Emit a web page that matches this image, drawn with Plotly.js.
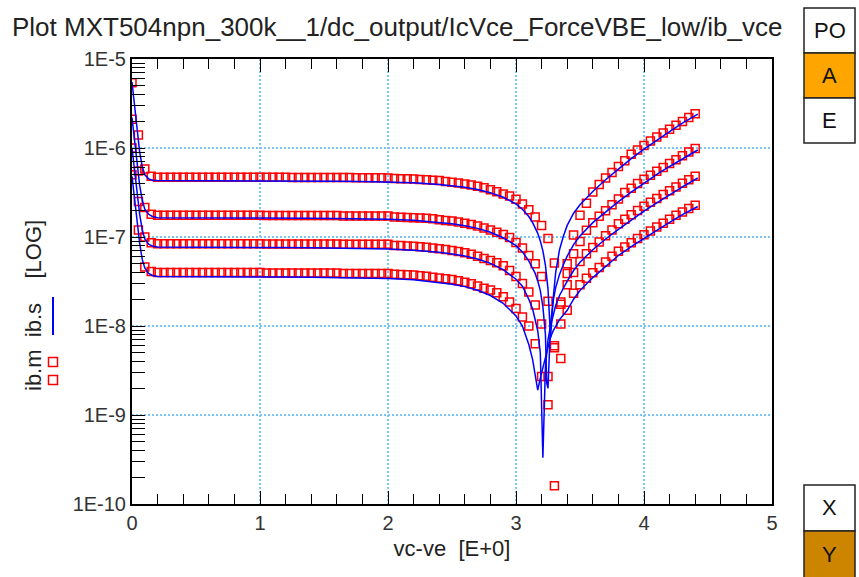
<!DOCTYPE html>
<html><head><meta charset="utf-8">
<script src="https://cdn.plot.ly/plotly-3.0.1.min.js"></script>
<style>html,body{margin:0;padding:0;background:#fff}#chart{width:859px;height:577px}</style>
</head><body><div id="chart"></div>
<script>
// measured vc-ve grid
const vceMeas = [0,0.05,0.1,0.15,0.2,0.25,0.3,0.35,0.4,0.45,0.5,0.55,0.6,0.65,0.7,0.75,0.8,0.85,0.9,0.95,1,1.05,1.1,1.15,1.2,1.25,1.3,1.35,1.4,1.45,1.5,1.55,1.6,1.65,1.7,1.75,1.8,1.85,1.9,1.95,2,2.05,2.1,2.15,2.2,2.25,2.3,2.35,2.4,2.45,2.5,2.55,2.6,2.65,2.7,2.75,2.8,2.85,2.9,2.95,3,3.05,3.1,3.15,3.2,3.25,3.3,3.35,3.4,3.45,3.5,3.55,3.6,3.65,3.7,3.75,3.8,3.85,3.9,3.95,4,4.05,4.1,4.15,4.2,4.25,4.3,4.35,4.4];
// measured |ib| (ib.m), four VBE steps
const ibmA = [5.4e-6,1.4e-6,5.8e-7,4.8e-7,4.7e-7,4.7e-7,4.7e-7,4.7e-7,4.7e-7,4.7e-7,4.7e-7,4.7e-7,4.7e-7,4.68e-7,4.68e-7,4.68e-7,4.68e-7,4.68e-7,4.68e-7,4.68e-7,4.68e-7,4.68e-7,4.68e-7,4.68e-7,4.68e-7,4.65e-7,4.65e-7,4.65e-7,4.65e-7,4.65e-7,4.65e-7,4.65e-7,4.65e-7,4.65e-7,4.65e-7,4.62e-7,4.62e-7,4.62e-7,4.62e-7,4.62e-7,4.6e-7,4.55e-7,4.52e-7,4.5e-7,4.47e-7,4.44e-7,4.4e-7,4.35e-7,4.3e-7,4.2e-7,4.12e-7,4.05e-7,3.95e-7,3.85e-7,3.72e-7,3.57e-7,3.4e-7,3.22e-7,3.05e-7,2.88e-7,2.65e-7,2.35e-7,2.02e-7,1.68e-7,1.35e-7,9.6e-8,5.1e-8,4.3e-9,5.0e-8,1.05e-7,1.75e-7,2.4e-7,3.2e-7,3.9e-7,4.6e-7,5.3e-7,6.2e-7,7.2e-7,8.5e-7,9.5e-7,1.07e-6,1.2e-6,1.33e-6,1.47e-6,1.62e-6,1.8e-6,1.98e-6,2.2e-6,2.42e-6];
const ibmB = [2.1e-6,5.5e-7,2.15e-7,1.8e-7,1.75e-7,1.75e-7,1.75e-7,1.75e-7,1.75e-7,1.75e-7,1.75e-7,1.75e-7,1.75e-7,1.75e-7,1.75e-7,1.75e-7,1.75e-7,1.75e-7,1.75e-7,1.75e-7,1.75e-7,1.74e-7,1.74e-7,1.74e-7,1.74e-7,1.74e-7,1.74e-7,1.74e-7,1.74e-7,1.74e-7,1.74e-7,1.74e-7,1.74e-7,1.72e-7,1.72e-7,1.72e-7,1.72e-7,1.72e-7,1.72e-7,1.72e-7,1.72e-7,1.68e-7,1.67e-7,1.66e-7,1.65e-7,1.64e-7,1.62e-7,1.6e-7,1.56e-7,1.53e-7,1.51e-7,1.47e-7,1.43e-7,1.38e-7,1.33e-7,1.26e-7,1.2e-7,1.13e-7,1.07e-7,9.9e-8,8.7e-8,7.5e-8,6.2e-8,5.0e-8,3.6e-8,1.9e-8,1.6e-10,1.86e-8,3.9e-8,6.5e-8,8.9e-8,1.19e-7,1.45e-7,1.71e-7,1.97e-7,2.31e-7,2.68e-7,3.16e-7,3.53e-7,3.98e-7,4.46e-7,4.95e-7,5.47e-7,6.03e-7,6.7e-7,7.37e-7,8.18e-7,9.0e-7,9.86e-7];
const ibmC = [1.0e-6,2.5e-7,1.0e-7,8.6e-8,8.4e-8,8.4e-8,8.4e-8,8.4e-8,8.4e-8,8.4e-8,8.4e-8,8.4e-8,8.4e-8,8.4e-8,8.4e-8,8.4e-8,8.4e-8,8.4e-8,8.4e-8,8.4e-8,8.4e-8,8.35e-8,8.35e-8,8.35e-8,8.35e-8,8.35e-8,8.35e-8,8.35e-8,8.35e-8,8.35e-8,8.35e-8,8.35e-8,8.35e-8,8.3e-8,8.3e-8,8.3e-8,8.3e-8,8.3e-8,8.3e-8,8.3e-8,8.3e-8,8.04e-8,8.0e-8,7.93e-8,7.86e-8,7.77e-8,7.68e-8,7.5e-8,7.36e-8,7.24e-8,7.06e-8,6.88e-8,6.65e-8,6.38e-8,6.08e-8,5.75e-8,5.45e-8,5.15e-8,4.74e-8,4.2e-8,3.61e-8,3.0e-8,2.41e-8,1.72e-8,1.05e-8,1.3e-9,6.0e-9,1.75e-8,2.9e-8,4.0e-8,5.3e-8,6.5e-8,7.6e-8,8.8e-8,1.03e-7,1.2e-7,1.41e-7,1.58e-7,1.78e-7,1.99e-7,2.21e-7,2.45e-7,2.7e-7,3.0e-7,3.3e-7,3.65e-7,4.02e-7,4.4e-7,4.8e-7];
const ibmD = [5.0e-7,1.2e-7,4.6e-8,4.1e-8,4.0e-8,4.0e-8,4.0e-8,4.0e-8,4.0e-8,4.0e-8,4.0e-8,4.0e-8,4.0e-8,4.0e-8,4.0e-8,4.0e-8,4.0e-8,4.0e-8,4.0e-8,4.0e-8,4.0e-8,3.95e-8,3.95e-8,3.95e-8,3.95e-8,3.95e-8,3.95e-8,3.95e-8,3.95e-8,3.95e-8,3.95e-8,3.95e-8,3.95e-8,3.9e-8,3.9e-8,3.9e-8,3.9e-8,3.9e-8,3.9e-8,3.9e-8,3.9e-8,3.82e-8,3.8e-8,3.76e-8,3.73e-8,3.68e-8,3.62e-8,3.54e-8,3.47e-8,3.4e-8,3.32e-8,3.22e-8,3.1e-8,2.98e-8,2.82e-8,2.66e-8,2.53e-8,2.36e-8,2.13e-8,1.86e-8,1.57e-8,1.26e-8,1.0e-8,6.3e-9,2.7e-9,2.7e-9,5.7e-9,1.05e-8,1.5e-8,2.33e-8,2.9e-8,3.44e-8,3.96e-8,4.55e-8,5.24e-8,6.08e-8,6.9e-8,7.7e-8,8.6e-8,9.6e-8,1.06e-7,1.165e-7,1.295e-7,1.43e-7,1.58e-7,1.75e-7,1.91e-7,2.09e-7,2.28e-7];
// simulated vc-ve grid
const vceSim = [0,0.02,0.04,0.06,0.08,0.1,0.13,0.16,0.2,0.4,0.6,0.8,1.0,1.2,1.4,1.6,1.8,2.0,2.2,2.4,2.5,2.6,2.7,2.8,2.9,3.0,3.05,3.1,3.13,3.15,3.17,3.19,3.21,3.23,3.24,3.25,3.27,3.29,3.31,3.34,3.37,3.4,3.45,3.5,3.6,3.7,3.8,3.9,4.0,4.1,4.2,4.3,4.42];
// simulated |ib| (ib.s)
const ibsA = [5.5e-6,3.0e-6,1.6e-6,9.0e-7,6.2e-7,5.0e-7,4.5e-7,4.35e-7,4.3e-7,4.3e-7,4.3e-7,4.3e-7,4.28e-7,4.27e-7,4.25e-7,4.23e-7,4.2e-7,4.17e-7,4.07e-7,3.9e-7,3.78e-7,3.62e-7,3.42e-7,3.15e-7,2.8e-7,2.35e-7,2.05e-7,1.7e-7,1.45e-7,1.28e-7,1.1e-7,9.0e-8,7.0e-8,4.8e-8,3.7e-8,2.6e-8,7.4e-9,2.0e-8,4.0e-8,7.2e-8,1.02e-7,1.35e-7,1.85e-7,2.3e-7,3.25e-7,4.4e-7,5.8e-7,7.6e-7,9.7e-7,1.23e-6,1.53e-6,1.9e-6,2.4e-6];
const ibsB = [2.2e-6,1.2e-6,6.5e-7,3.8e-7,2.6e-7,2.05e-7,1.8e-7,1.7e-7,1.65e-7,1.65e-7,1.65e-7,1.65e-7,1.64e-7,1.63e-7,1.62e-7,1.61e-7,1.6e-7,1.58e-7,1.54e-7,1.47e-7,1.41e-7,1.34e-7,1.25e-7,1.13e-7,9.8e-8,8.0e-8,6.8e-8,5.4e-8,4.5e-8,3.9e-8,3.2e-8,2.5e-8,1.65e-8,8.0e-9,2.3e-9,2.0e-9,1.05e-8,1.9e-8,2.7e-8,3.8e-8,4.9e-8,6.1e-8,8.2e-8,1.03e-7,1.45e-7,1.92e-7,2.5e-7,3.2e-7,4.05e-7,5.05e-7,6.2e-7,7.6e-7,9.5e-7];
const ibsC = [1.0e-6,5.5e-7,3.0e-7,1.8e-7,1.2e-7,9.5e-8,8.3e-8,7.9e-8,7.7e-8,7.7e-8,7.7e-8,7.7e-8,7.65e-8,7.6e-8,7.55e-8,7.5e-8,7.45e-8,7.35e-8,7.1e-8,6.75e-8,6.45e-8,6.1e-8,5.65e-8,5.05e-8,4.3e-8,3.35e-8,2.8e-8,2.0e-8,1.55e-8,1.2e-8,8.8e-9,5.0e-9,3.3e-10,3.5e-9,5.2e-9,7.0e-9,1.0e-8,1.35e-8,1.7e-8,2.2e-8,2.7e-8,3.2e-8,4.2e-8,5.2e-8,7.2e-8,9.5e-8,1.22e-7,1.55e-7,1.95e-7,2.42e-7,2.98e-7,3.65e-7,4.6e-7];
const ibsD = [4.8e-7,2.6e-7,1.4e-7,8.5e-8,5.6e-8,4.5e-8,3.9e-8,3.7e-8,3.6e-8,3.6e-8,3.6e-8,3.6e-8,3.58e-8,3.55e-8,3.53e-8,3.5e-8,3.47e-8,3.42e-8,3.3e-8,3.1e-8,2.95e-8,2.77e-8,2.52e-8,2.2e-8,1.8e-8,1.3e-8,1.0e-8,6.2e-9,4.2e-9,2.8e-9,1.9e-9,2.6e-9,3.4e-9,4.7e-9,5.4e-9,6.1e-9,7.5e-9,8.8e-9,1.0e-8,1.18e-8,1.33e-8,1.5e-8,2.0e-8,2.5e-8,3.5e-8,4.7e-8,6.2e-8,7.8e-8,9.7e-8,1.19e-7,1.46e-7,1.78e-7,2.2e-7];
// tick labels
const yTickVals = [1e-10,1e-9,1e-8,1e-7,1e-6,1e-5];
const yTickText = ['1E-10','1E-9','1E-8','1E-7','1E-6','1E-5'];
const xTickVals = [0,1,2,3,4,5];
const xTickText = ['0','1','2','3','4','5'];
const titleText = 'Plot MXT504npn_300k__1/dc_output/IcVce_ForceVBE_low/ib_vce';
const xTitleText = 'vc-ve\u00a0 [E+0]';
const yTitleText = 'ib.m\u00a0 ib.s\u00a0\u00a0\u00a0 [LOG]';

// layout geometry (pixels)
const W = 859, H = 577, PL = 132, PR = 772, PT = 59, PB = 504;
const fx = p => (p - PL) / (PR - PL);
const fy = p => (PB - p) / (PB - PT);
const FONT = 'Liberation Sans, Arial, sans-serif';

const minorY = [];
for (let e = -10; e < -5; e++) for (let k = 2; k <= 9; k++) minorY.push(k * Math.pow(10, e));

const meas = (y) => ({x: vceMeas, y: y, type: 'scatter', mode: 'markers', showlegend: false,
  marker: {symbol: 'square-open', size: 8, color: '#ff0000', line: {width: 1.5, color: '#ff0000'}}, hoverinfo: 'skip'});
const sim = (y) => ({x: vceSim, y: y, type: 'scatter', mode: 'lines', showlegend: false,
  line: {color: '#0000ff', width: 1.5}, hoverinfo: 'skip'});
const data = [meas(ibmA), meas(ibmB), meas(ibmC), meas(ibmD), sim(ibsA), sim(ibsB), sim(ibsC), sim(ibsD)];

const box = (y0, y1, fill) => ({type: 'rect', xref: 'paper', yref: 'paper', x0: fx(804), x1: fx(855), y0: fy(y1), y1: fy(y0),
  fillcolor: fill, line: {color: '#222', width: 1.5}, layer: 'above'});
const boxText = (t, yc) => ({text: t, xref: 'paper', yref: 'paper', x: fx(829.5), y: fy(yc), showarrow: false,
  xanchor: 'center', yanchor: 'middle', font: {family: FONT, size: 22, color: '#111'}});

const GRID = '#7cc6f7';
const layout = {
  width: W, height: H,
  margin: {l: PL, r: W - PR, t: PT, b: H - PB, pad: 0},
  paper_bgcolor: '#fff', plot_bgcolor: '#fff',
  font: {family: FONT, color: '#222'},
  title: {text: titleText, xref: 'container', yref: 'container', x: 12 / W, xanchor: 'left', y: 1 - 27 / H, yanchor: 'middle',
    font: {family: FONT, size: 26, color: '#222'}},
  xaxis: {type: 'linear', range: [0, 5], tickmode: 'array', tickvals: xTickVals, ticktext: xTickText,
    ticks: 'inside', ticklen: 13, tickcolor: '#000', tickwidth: 1,
    minor: {tick0: 0, dtick: 0.2, ticks: 'inside', ticklen: 10, tickcolor: '#000', tickwidth: 1, showgrid: false},
    showgrid: true, gridcolor: GRID, griddash: '2px,2px', gridwidth: 1.2,
    showline: true, linecolor: '#000', linewidth: 2, mirror: 'allticks', zeroline: false,
    tickfont: {family: FONT, size: 20, color: '#333'},
    title: {text: xTitleText, font: {family: FONT, size: 22, color: '#222'}, standoff: 8}},
  yaxis: {type: 'log', range: [-10, -5], tickmode: 'array', tickvals: yTickVals, ticktext: yTickText,
    ticks: 'inside', ticklen: 13, tickcolor: '#000', tickwidth: 1,
    minor: {tickmode: 'array', tickvals: minorY, ticks: 'inside', ticklen: 13, tickcolor: '#000', tickwidth: 1, showgrid: false},
    showgrid: true, gridcolor: GRID, griddash: '2px,2px', gridwidth: 1.2,
    showline: true, linecolor: '#000', linewidth: 2, mirror: true, zeroline: false,
    tickfont: {family: FONT, size: 20, color: '#333'}},
  shapes: [
    box(8, 53, '#ffffff'), box(53, 98, '#ffa500'), box(98, 143, '#ffffff'),
    box(485, 531, '#ffffff'), box(531, 580, '#cd8500'),
    {type: 'rect', xref: 'paper', yref: 'paper', x0: fx(48.5), x1: fx(57.5), y0: fy(366.5), y1: fy(357.5), line: {color: '#ff0000', width: 1.5}},
    {type: 'rect', xref: 'paper', yref: 'paper', x0: fx(48.5), x1: fx(57.5), y0: fy(384.5), y1: fy(375.5), line: {color: '#ff0000', width: 1.5}},
    {type: 'line', xref: 'paper', yref: 'paper', x0: fx(53), x1: fx(53), y0: fy(335), y1: fy(297), line: {color: '#0000ff', width: 2}}
  ],
  annotations: [
    {text: yTitleText, xref: 'paper', yref: 'paper', x: fx(33), y: fy(306), textangle: -90, showarrow: false,
      xanchor: 'center', yanchor: 'middle', font: {family: FONT, size: 22, color: '#222'}},
    boxText('PO', 30.5), boxText('A', 75.5), boxText('E', 120.5), boxText('X', 508), boxText('Y', 554)
  ]
};
Plotly.newPlot('chart', data, layout, {staticPlot: true, displayModeBar: false});
</script></body></html>
